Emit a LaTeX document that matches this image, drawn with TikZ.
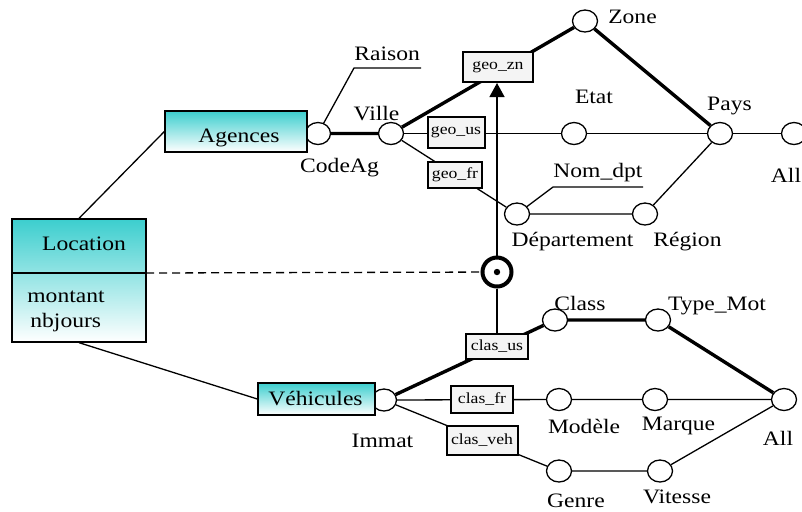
\documentclass[tikz,border=0pt]{standalone}
\usepackage{fontspec}
\setmainfont{Liberation Serif}[FakeStretch=1.15]
\usetikzlibrary{arrows.meta,positioning,shapes.geometric,backgrounds}
\definecolor{entteal}{RGB}{60,206,206}
\definecolor{fngray}{RGB}{244,244,244}

\begin{document}
\begin{tikzpicture}[
  x=0.5pt, y=-0.5pt,
  every node/.style={font=\fontsize{10.25}{13.5}\selectfont},
  attr/.style={ellipse, draw, fill=white, line width=0.65pt, minimum width=12.5pt, minimum height=11pt, inner sep=0},
  lbl/.style={inner sep=0, anchor=base},
  entity/.style={draw, line width=0.65pt, top color=entteal, bottom color=white, inner sep=0},
  fn/.style={draw, fill=fngray, line width=1pt, inner sep=0, font=\fontsize{7.7}{9}\selectfont},
  lnk/.style={line width=0.65pt},
  hier/.style={line width=1.7pt},
  arr/.style={-{Triangle[length=7pt,width=7.5pt]}, line width=0.65pt},
]
\useasboundingbox (0,0) rectangle (802,511);

%% ── attribute circles ────────────────────────────────────────────────────
\foreach \n/\x/\y in {codeag/318/133.5, ville/391/133.5, zone/585/21,
    etat/574/133.5, pays/720/133.5, allgeo/794/133.5, dept/517/214,
    region/645/214, immat/384/400, class/555/320, typemot/658/320,
    modele/559/399.5, marque/655/399.5, allveh/784/399.5,
    genre/559/471, vitesse/660/471} {
  \node[attr] (\n) at (\x,\y) {};
}

%% ── attribute labels ─────────────────────────────────────────────────────
\foreach \n/\x/\y/\t in {zone/632.5/23/Zone, etat/594/103/Etat,
    pays/729.5/110/Pays, allgeo/786/182/All, ville/376.5/120/Ville,
    codeag/339.5/172/CodeAg, dept/572.5/246/Département,
    region/687.5/246/Région, class/580/310/Class,
    typemot/717/310/{Type\_Mot}, modele/584/433/Modèle,
    marque/678.5/430/Marque, allveh/778/445/All, immat/382.5/447/Immat,
    genre/576/507/Genre, vitesse/677/503/Vitesse} {
  \node[lbl] (l\n) at (\x,\y) {\t};
}
\node[lbl, anchor=base west] (lraison) at (354,60) {Raison};
\coordinate (raisonL) at (354,68);
\coordinate (raisonR) at (421,68);
\node[lbl, anchor=base west] (lnomdpt) at (553,177) {Nom\_dpt};
\coordinate (nomdptL) at (553,187);
\coordinate (nomdptR) at (643,187);

%% ── entities ─────────────────────────────────────────────────────────────
\node[entity, minimum width=67pt, minimum height=61.5pt] (loc) at (79,280.5) {};
\coordinate (locdiv) at (146,273);
\draw[lnk] (loc.west |- locdiv) -- (locdiv);
\node[lbl] (tloc) at (84,250) {Location};
\node[lbl, anchor=base west] (tmontant) at (27,302) {montant};
\node[lbl, anchor=base west] (tnbjours) at (30,327) {nbjours};

\node[entity, minimum width=71pt, minimum height=20.5pt] (agences) at (236,131.5) {};
\node[lbl] (tagences) at (239,142) {Agences};
\node[entity, minimum width=58.5pt, minimum height=16pt] (vehicules) at (316.5,399) {};
\node[lbl] (tvehicules) at (315.5,405) {Véhicules};

%% ── hierarchy functions ──────────────────────────────────────────────────
\node[fn, minimum width=35pt, minimum height=15pt]   (geozn)   at (498,67)    {geo\_zn};
\node[fn, minimum width=28.5pt, minimum height=15.5pt] (geous) at (456,132.5) {geo\_us};
\node[fn, minimum width=27pt, minimum height=13pt]    (geofr)   at (455,175)   {geo\_fr};
\node[fn, minimum width=31pt, minimum height=12.5pt]  (clasus)  at (497,346)   {clas\_us};
\node[fn, minimum width=31pt, minimum height=13.5pt]  (clasfr)  at (482,399.5) {clas\_fr};
\node[fn, minimum width=35.5pt, minimum height=14.5pt] (clasveh) at (482,440.5) {clas\_veh};

%% the fact point
\node[circle, draw, fill=white, line width=2pt, minimum size=14.5pt, inner sep=0] (dot) at (497,272) {};
\fill (dot) circle (1.6pt);

%% ── links ────────────────────────────────────────────────────────────────
\begin{scope}[on background layer]
  \draw[hier] (codeag) -- (ville) -- (zone) -- (pays);
  \draw[lnk] (ville) -- (etat) -- (pays) -- (allgeo);
  \draw[lnk] (ville) -- (dept) -- (region) -- (pays);
  \draw[lnk] (codeag) -- (raisonL) -- (raisonR);
  \draw[lnk] (dept) -- (nomdptL) -- (nomdptR);
  \draw[hier] (immat) -- (class) -- (typemot) -- (allveh);
  \draw[lnk] (immat) -- (modele) -- (marque) -- (allveh);
  \draw[lnk] (immat) -- (genre) -- (vitesse) -- (allveh);
\end{scope}

\draw[lnk] (loc.north) -- (agences.west);
\draw[lnk] (loc.south) -- (vehicules.west);
\draw[lnk, dash pattern=on 4pt off 2.5pt] (locdiv) -- (dot);
\draw[arr] (dot) -- (dot |- geozn.south);
\draw[lnk] (dot) -- (clasus);

\end{tikzpicture}
\end{document}
